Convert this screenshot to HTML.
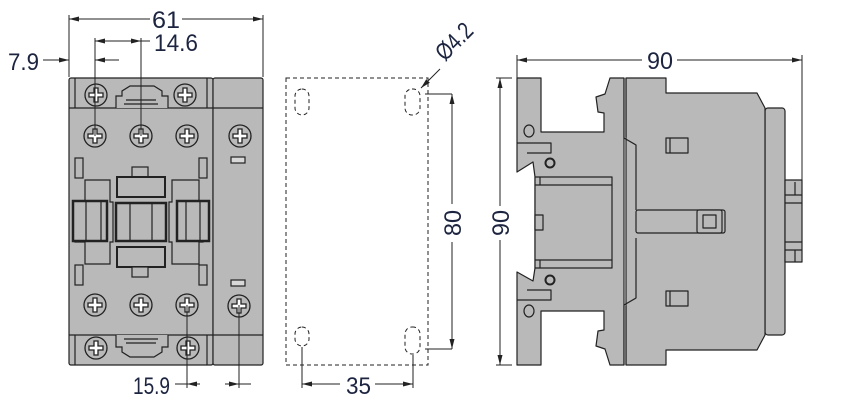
<!DOCTYPE html>
<html><head><meta charset="utf-8"><style>
html,body{margin:0;padding:0;background:#fff;width:846px;height:416px;overflow:hidden}
svg{display:block}
text{font-family:"Liberation Sans",sans-serif;font-size:24px;fill:#1c2440}
</style></head><body>
<svg width="846" height="416" viewBox="0 0 846 416" xmlns="http://www.w3.org/2000/svg">
<defs>
<marker id="a" viewBox="0 0 10 6" refX="10" refY="3" markerWidth="10" markerHeight="6" orient="auto-start-reverse" markerUnits="userSpaceOnUse"><path d="M0,0.5L10,3L0,5.5Z" fill="#222"/></marker>
<g id="scr"><circle r="11" fill="#b9b9b9" stroke="#222" stroke-width="1.3"/><path d="M-7,-2h5v-5h4v5h5v4h-5v5h-4v-5h-5z" fill="#fff" stroke="#222" stroke-width="1.3"/></g>
</defs>
<g stroke="#222" stroke-width="1.2" fill="#b9b9b9">
<rect x="69" y="78" width="144" height="287" rx="2"/>
<rect x="213" y="78" width="50" height="287" rx="2"/>
<line x1="69" y1="108" x2="213" y2="108"/>
<line x1="69" y1="335" x2="263" y2="335"/>
<line x1="213" y1="108" x2="263" y2="108"/>
<line x1="75" y1="78" x2="75" y2="108"/><line x1="207" y1="78" x2="207" y2="108"/>
<line x1="75" y1="335" x2="75" y2="365"/><line x1="207" y1="335" x2="207" y2="365"/>
<path d="M116,108v-12h6v-5l8,-5h24l8,5v5h6v12" fill="#b9b9b9"/>
<path d="M124,104h34M126,100h30" fill="none"/>
<path d="M116,335v12h6v5l8,5h24l8,-5v-5h6v-12" fill="#b9b9b9"/>
<path d="M124,339h34M126,343h30" fill="none"/>
<rect x="75" y="158" width="8" height="20"/><rect x="199" y="158" width="8" height="20"/>
<rect x="75" y="265" width="8" height="20"/><rect x="199" y="265" width="8" height="20"/>
<rect x="231" y="157" width="14" height="6" fill="#d8d8d8"/><rect x="231" y="280" width="14" height="6" fill="#d8d8d8"/>
<path d="M85,180h25v22h3v40h-3v22h-25v-22h-10v-40h10z"/>
<path d="M172,180h27v22h4v40h-4v22h-27v-22h-3v-40h3z"/>
<rect x="73" y="201" width="34" height="40" stroke-width="2.5"/>
<line x1="86" y1="201" x2="86" y2="241"/><line x1="101" y1="201" x2="101" y2="241"/>
<rect x="177" y="201" width="32" height="40" stroke-width="2.5"/>
<line x1="186" y1="201" x2="186" y2="241"/><line x1="200" y1="201" x2="200" y2="241"/>
<rect x="132" y="167" width="16" height="10"/><rect x="117" y="177" width="48" height="20" stroke-width="2"/>
<rect x="116" y="203" width="50" height="38" stroke-width="2.5"/>
<line x1="130" y1="203" x2="130" y2="241"/><line x1="152" y1="203" x2="152" y2="241"/>
<rect x="117" y="247" width="48" height="20" stroke-width="2"/><rect x="132" y="267" width="16" height="10"/>
</g>
<use href="#scr" x="96" y="95"/><use href="#scr" x="185" y="95"/>
<use href="#scr" x="95" y="136"/><use href="#scr" x="141" y="136"/><use href="#scr" x="187" y="136"/><use href="#scr" x="240" y="136"/>
<use href="#scr" x="95" y="305"/><use href="#scr" x="141" y="305"/><use href="#scr" x="187" y="305"/><use href="#scr" x="239" y="306"/>
<use href="#scr" x="96" y="348"/><use href="#scr" x="188" y="348"/>
<g stroke="#222" stroke-width="1" fill="none">
<line x1="69" y1="15" x2="69" y2="77"/><line x1="263" y1="15" x2="263" y2="77"/>
<line x1="69" y1="19" x2="150" y2="19" marker-start="url(#a)"/><line x1="182" y1="19" x2="263" y2="19" marker-end="url(#a)"/>
<line x1="95" y1="38" x2="95" y2="136"/><line x1="141" y1="38" x2="141" y2="136"/>
<line x1="95" y1="41" x2="150" y2="41" marker-start="url(#a)"/><line x1="125" y1="41" x2="141" y2="41" marker-end="url(#a)"/>
<line x1="43" y1="60" x2="69" y2="60" marker-end="url(#a)"/><line x1="119" y1="60" x2="95" y2="60" marker-end="url(#a)"/>
<line x1="187" y1="305" x2="187" y2="388"/><line x1="239" y1="305" x2="239" y2="388"/>
<line x1="175" y1="384" x2="187" y2="384"/><line x1="187" y1="384" x2="200" y2="384" marker-start="url(#a)"/>
<line x1="225" y1="384" x2="239" y2="384" marker-end="url(#a)"/><line x1="239" y1="384" x2="251" y2="384"/>
</g>
<text x="152" y="28" textLength="28" lengthAdjust="spacingAndGlyphs">61</text>
<text x="154" y="51" textLength="44" lengthAdjust="spacingAndGlyphs">14.6</text>
<text x="8" y="70" textLength="31" lengthAdjust="spacingAndGlyphs">7.9</text>
<text x="133" y="394" textLength="37" lengthAdjust="spacingAndGlyphs">15.9</text>
<g stroke="#222" stroke-width="1" fill="none" stroke-dasharray="4,3">
<rect x="286" y="78" width="142" height="287"/>
<rect x="295" y="89" width="14" height="26" rx="7"/><rect x="405" y="89" width="15" height="26" rx="7"/>
<rect x="295" y="327" width="14" height="19" rx="7"/><rect x="405" y="327" width="15" height="27" rx="7"/>
</g>
<g stroke="#222" stroke-width="1" fill="none">
<line x1="425" y1="94" x2="452" y2="94"/><line x1="425" y1="349" x2="452" y2="349"/>
<line x1="452" y1="94" x2="452" y2="204" marker-start="url(#a)"/><line x1="452" y1="242" x2="452" y2="349" marker-end="url(#a)"/>
<line x1="302" y1="347" x2="302" y2="388"/><line x1="413" y1="355" x2="413" y2="388"/>
<line x1="302" y1="384" x2="340" y2="384" marker-start="url(#a)"/><line x1="375" y1="384" x2="413" y2="384" marker-end="url(#a)"/>
<line x1="440" y1="69" x2="421" y2="88" marker-end="url(#a)"/>
</g>
<text x="0" y="0" transform="translate(461,223) rotate(-90)" text-anchor="middle" textLength="26" lengthAdjust="spacingAndGlyphs">80</text>
<text x="346" y="394" textLength="25" lengthAdjust="spacingAndGlyphs">35</text>
<text x="0" y="0" transform="translate(445,62) rotate(-45)" textLength="42" lengthAdjust="spacingAndGlyphs">Ø4.2</text>
<g stroke="#222" stroke-width="1.2" fill="#b9b9b9" stroke-linejoin="round">
<rect x="765" y="108" width="20" height="227" rx="3"/>
<rect x="785" y="180" width="17" height="82"/>
<path d="M785,195h17M795,182v13M785,203h17M785,242h17M785,250h17M795,250v12" fill="none"/>
<path d="M626,78h40v15h91l8,15v227l-8,15h-91v15h-40z"/>
<path d="M517,78h24v54h63v-19l-6,-1l-2,-15l9,-3l5,-16h14v287h-14l-5,-16l-9,-3l2,-15l6,-1v-19h-63v54h-24v-93l16,9l2,-13v-91l-2,-15l-16,10z"/>
<path d="M624,78v60l12,7v60l-0,5M624,365v-60l12,-7v-60" fill="none"/>
<path d="M626,78v59M626,365v-59" fill="none"/>
<rect x="636" y="210" width="89" height="23" rx="2"/>
<rect x="697" y="210" width="25" height="23" rx="2"/>
<rect x="703" y="215" width="13" height="13"/>
<rect x="535" y="177" width="77" height="91"/>
<line x1="535" y1="185" x2="612" y2="185"/><line x1="535" y1="260" x2="612" y2="260"/>
<line x1="540" y1="177" x2="540" y2="185"/><line x1="540" y1="260" x2="540" y2="268"/>
<rect x="535" y="215" width="8" height="15"/>
<path d="M517,143h34v10h-24M517,300h34v-10h-24" fill="none"/>
<ellipse cx="529" cy="131" rx="5" ry="6"/><ellipse cx="529" cy="311" rx="5" ry="6"/>
<circle cx="550" cy="163" r="4.5" stroke-width="2"/><circle cx="550" cy="280" r="4.5" stroke-width="2"/>
<rect x="666" y="138" width="22" height="15"/><rect x="666" y="291" width="22" height="15"/>
<line x1="670" y1="138" x2="670" y2="153"/><line x1="670" y1="291" x2="670" y2="306"/>
</g>
<g stroke="#222" stroke-width="1" fill="none">
<line x1="517" y1="55" x2="517" y2="78"/><line x1="802" y1="55" x2="802" y2="180"/>
<line x1="517" y1="60" x2="642" y2="60" marker-start="url(#a)"/><line x1="677" y1="60" x2="802" y2="60" marker-end="url(#a)"/>
<line x1="496" y1="78" x2="512" y2="78"/><line x1="496" y1="365" x2="512" y2="365"/>
<line x1="500" y1="78" x2="500" y2="206" marker-start="url(#a)"/><line x1="500" y1="240" x2="500" y2="365" marker-end="url(#a)"/>
</g>
<text x="647" y="69" textLength="26" lengthAdjust="spacingAndGlyphs">90</text>
<text x="0" y="0" transform="translate(509,223) rotate(-90)" text-anchor="middle" textLength="26" lengthAdjust="spacingAndGlyphs">90</text>
</svg>
</body></html>
